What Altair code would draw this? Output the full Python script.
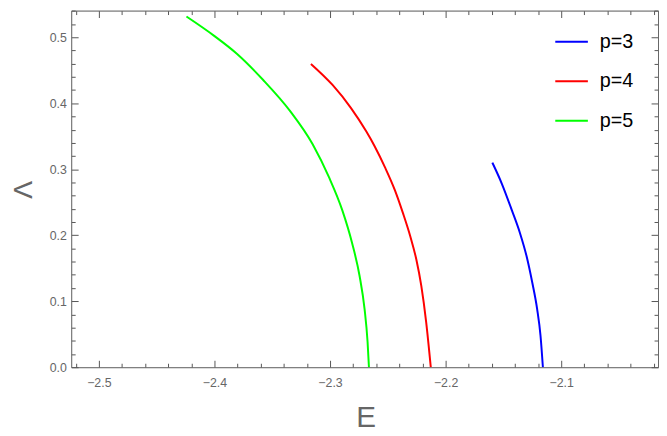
import altair as alt
import pandas as pd

# ---- data ----
series_names = ["p=3", "p=4", "p=5"]
series_colors = ["#0000ff", "#ff0000", "#00ff00"]

E3 = [-2.1595, -2.1513, -2.1427, -2.1356, -2.1299, -2.1250, -2.1208, -2.1179, -2.1158]
L3 = [0.3099, 0.2780, 0.2380, 0.2031, 0.1681, 0.1283, 0.0883, 0.0484, 0.0]

E4 = [-2.3165, -2.2978, -2.2818, -2.2688, -2.2615, -2.2524, -2.2438, -2.2368, -2.2305,
      -2.2253, -2.2210, -2.2168, -2.2128]
L4 = [0.4596, 0.4277, 0.3927, 0.3578, 0.3353, 0.3028, 0.2680, 0.2331, 0.1981,
      0.1632, 0.1232, 0.0684, 0.0]

E5 = [-2.4242, -2.4005, -2.3806, -2.3578, -2.3343, -2.3150, -2.3009, -2.2894, -2.2809,
      -2.2744, -2.2701, -2.2675, -2.2663]
L5 = [0.5314, 0.5025, 0.4750, 0.4352, 0.3877, 0.3379, 0.2879, 0.2380, 0.1882,
      0.1382, 0.0883, 0.0385, 0.0]

x_major = [-2.5, -2.4, -2.3, -2.2, -2.1]
x_minor = [-2.52, -2.48, -2.46, -2.44, -2.42, -2.38, -2.36, -2.34, -2.32,
           -2.28, -2.26, -2.24, -2.22, -2.18, -2.16, -2.14, -2.12,
           -2.08, -2.06, -2.04, -2.02]
y_major = [0.0, 0.1, 0.2, 0.3, 0.4, 0.5]
y_minor = [0.02, 0.04, 0.06, 0.08, 0.12, 0.14, 0.16, 0.18, 0.22, 0.24, 0.26, 0.28,
           0.32, 0.34, 0.36, 0.38, 0.42, 0.44, 0.46, 0.48, 0.52, 0.54]

x_domain = [-2.5239, -2.0162]
y_domain = [0.0, 0.5404]

rows = []
for name, es, ls in zip(series_names, [E3, E4, E5], [L3, L4, L5]):
    for i, (e, l) in enumerate(zip(es, ls)):
        rows.append({"p": name, "E": e, "L": l, "i": i})
df = pd.DataFrame(rows)

FONT = "Liberation Sans"
GRAY = "#666666"
TICK = "#555555"

xs = alt.Scale(domain=x_domain, nice=False, zero=False)
ys = alt.Scale(domain=y_domain, nice=False, zero=False)


def ax(orient, values, size, labels=False, **kw):
    # inward ticks: shift the axis into the plot by the tick length
    return alt.Axis(orient=orient, values=values, ticks=True, tickSize=size, offset=-size,
                    labels=labels, domain=False, grid=False, tickColor=TICK,
                    tickWidth=1, zindex=1, **kw)


def frame(orient):
    return alt.Axis(orient=orient, ticks=False, labels=False, grid=False, domain=True,
                    domainColor=GRAY, domainWidth=1, title=None, zindex=1)


bottom_major = ax("bottom", x_major, 7, labels=True, format=".1f", labelFont=FONT,
                  labelFontSize=12.5, labelColor=GRAY, labelPadding=10,
                  labelFlush=False, title="E", titleFont=FONT, titleFontSize=30,
                  titleFontWeight="normal", titleColor=GRAY, titleX=298, titleY=58,
                  titleBaseline="middle", titleAlign="center")
left_major = ax("left", y_major, 7, labels=True, format=".1f", labelFont=FONT,
                labelFontSize=12.5, labelColor=GRAY, labelPadding=5,
                title="Λ", titleFont=FONT, titleFontSize=27, titleFontWeight="normal",
                titleColor=GRAY, titleX=-55, titleY=181, titleAngle=270,
                titleBaseline="middle", titleAlign="center")

base = alt.Chart(df)

lines = base.mark_line(strokeWidth=2, interpolate="monotone").encode(
    x=alt.X("E:Q", scale=xs, axis=bottom_major),
    y=alt.Y("L:Q", scale=ys, axis=left_major),
    color=alt.Color("p:N", scale=alt.Scale(domain=series_names, range=series_colors),
                    legend=alt.Legend(orient="none", legendX=489, legendY=14, title=None,
                                      symbolType="stroke", symbolSize=1089,
                                      symbolStrokeWidth=2, labelFont=FONT,
                                      labelFontSize=20, labelColor="black",
                                      labelOffset=11, rowPadding=12, padding=0)),
    order="i:Q",
)


def ghost(xa, ya):
    return base.mark_point(opacity=0).encode(
        x=alt.X("E:Q", scale=xs, axis=xa),
        y=alt.Y("L:Q", scale=ys, axis=ya),
    )


layer_minor = ghost(ax("bottom", x_minor, 4, title=None), ax("left", y_minor, 4, title=None))
layer_top_right = ghost(ax("top", x_major, 7, title=None), ax("right", y_major, 7, title=None))
layer_top_right_minor = ghost(ax("top", x_minor, 4, title=None), ax("right", y_minor, 4, title=None))
layer_frame_bl = ghost(frame("bottom"), frame("left"))
layer_frame_tr = ghost(frame("top"), frame("right"))

chart = alt.layer(
    lines, layer_minor, layer_top_right, layer_top_right_minor, layer_frame_bl, layer_frame_tr
).resolve_axis(
    x="independent", y="independent"
).properties(
    width=594,
    height=361,
    padding={"left": 64, "top": 0, "right": 1, "bottom": 66},
    autosize=alt.AutoSizeParams(type="none"),
).configure_view(
    strokeOpacity=0
).configure(background="white")

chart.save("out.html", embed_options={"renderer": "svg", "actions": False})
